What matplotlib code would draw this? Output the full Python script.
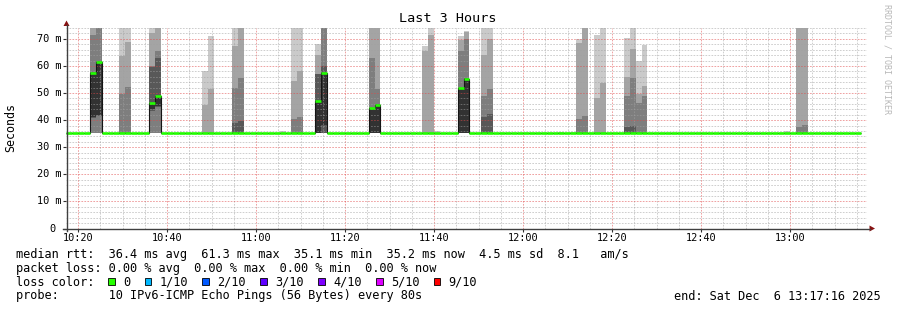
import matplotlib
matplotlib.use("Agg")
import matplotlib.pyplot as plt
import matplotlib.transforms as mtransforms
from matplotlib.patches import Polygon, Rectangle
from matplotlib.lines import Line2D
import numpy as np
import pandas as pd

plt.rcParams['lines.scale_dashes'] = False
plt.rcParams['font.family'] = ['DejaVu Sans Mono']

# ---------------- data ----------------
title = "Last 3 Hours"
y_label = "Seconds"
watermark = "RRDTOOL / TOBI OETIKER"
start_time = "2025-12-06 10:17:16"
end_time = "2025-12-06 13:17:16"
last_slot_start = "2025-12-06 13:14:36"
step_seconds = 80
base_rtt = 35.2  # ms, all 10 pings in quiet slots

smoke_times = [
    "10:22:36", "10:23:56", "10:29:16", "10:30:36", "10:35:56", "10:37:16",
    "10:47:56", "10:49:16", "10:54:36", "10:55:56", "11:05:16", "11:07:56",
    "11:09:16", "11:13:16", "11:14:36", "11:25:16", "11:26:36", "11:37:16",
    "11:38:36", "11:39:56", "11:45:16", "11:46:36", "11:50:36", "11:51:56",
    "12:07:56", "12:10:36", "12:11:56", "12:13:16", "12:15:56", "12:17:16",
    "12:22:36", "12:23:56", "12:25:16", "12:26:36", "12:58:36", "13:01:16",
    "13:02:36",
]
# 10 ping rtts (ms) per slot
smoke_pings = [
    [35.1, 35.1, 35.1, 40.6, 41.0, 57.5, 57.7, 71.4, 80.0, 80.0],
    [35.1, 35.1, 35.1, 41.5, 41.9, 61.6, 61.8, 80.0, 80.0, 80.0],
    [35.2, 35.2, 35.2, 35.2, 35.2, 35.2, 35.2, 49.6, 63.8, 80.0],
    [35.2, 35.2, 35.2, 35.2, 35.2, 35.2, 35.2, 52.2, 68.8, 80.0],
    [35.1, 35.1, 35.1, 43.5, 44.0, 46.4, 59.5, 60.0, 72.1, 80.0],
    [35.1, 35.1, 35.1, 45.0, 45.2, 48.8, 63.0, 65.5, 80.0, 80.0],
    [35.2, 35.2, 35.2, 35.2, 35.2, 35.2, 35.2, 35.2, 45.6, 58.2],
    [35.2, 35.2, 35.2, 35.2, 35.2, 35.2, 35.2, 35.2, 51.4, 71.1],
    [35.2, 35.2, 35.2, 35.2, 35.2, 35.2, 39.0, 51.7, 67.3, 80.0],
    [35.2, 35.2, 35.2, 35.2, 35.2, 35.2, 39.8, 55.5, 80.0, 80.0],
    [35.2, 35.2, 35.2, 35.2, 35.2, 35.2, 35.2, 35.2, 35.2, 35.9],
    [35.2, 35.2, 35.2, 35.2, 35.2, 35.2, 35.2, 40.4, 54.4, 80.0],
    [35.2, 35.2, 35.2, 35.2, 35.2, 35.2, 35.2, 41.3, 58.1, 80.0],
    [35.2, 35.2, 35.2, 35.2, 35.2, 47.0, 57.0, 57.2, 64.0, 68.2],
    [35.2, 35.2, 35.2, 35.2, 38.2, 57.3, 60.0, 80.0, 80.0, 80.0],
    [35.2, 35.2, 35.2, 35.2, 35.2, 44.3, 44.5, 62.8, 80.0, 80.0],
    [35.2, 35.2, 35.2, 35.2, 35.2, 45.7, 46.0, 51.5, 80.0, 80.0],
    [35.2, 35.2, 35.2, 35.2, 35.2, 35.2, 35.2, 35.2, 65.5, 67.3],
    [35.2, 35.2, 35.2, 35.2, 35.2, 35.2, 35.2, 35.2, 71.4, 80.0],
    [35.2, 35.2, 35.2, 35.2, 35.2, 35.2, 35.2, 35.2, 35.2, 35.9],
    [35.2, 35.2, 35.2, 35.2, 35.2, 51.7, 52.0, 65.5, 69.5, 71.0],
    [35.2, 35.2, 35.2, 35.2, 35.2, 55.3, 55.5, 70.0, 72.5, 73.0],
    [35.2, 35.2, 35.2, 35.2, 35.2, 35.2, 41.3, 48.9, 64.0, 80.0],
    [35.2, 35.2, 35.2, 35.2, 35.2, 35.2, 42.3, 51.5, 70.0, 80.0],
    [35.2, 35.2, 35.2, 35.2, 35.2, 35.2, 35.2, 35.2, 35.2, 35.8],
    [35.2, 35.2, 35.2, 35.2, 35.2, 35.2, 35.2, 35.2, 35.2, 35.8],
    [35.2, 35.2, 35.2, 35.2, 35.2, 35.2, 35.2, 40.4, 68.4, 69.9],
    [35.2, 35.2, 35.2, 35.2, 35.2, 35.2, 35.2, 41.5, 80.0, 80.0],
    [35.2, 35.2, 35.2, 35.2, 35.2, 35.2, 35.2, 35.2, 48.2, 71.4],
    [35.2, 35.2, 35.2, 35.2, 35.2, 35.2, 35.2, 35.2, 53.7, 80.0],
    [35.2, 35.2, 35.2, 35.2, 35.2, 35.2, 37.6, 48.9, 55.9, 70.3],
    [35.2, 35.2, 35.2, 35.2, 35.2, 35.3, 37.9, 55.5, 66.2, 80.0],
    [35.2, 35.2, 35.2, 35.2, 35.2, 35.2, 35.2, 46.3, 49.6, 61.8],
    [35.2, 35.2, 35.2, 35.2, 35.2, 35.2, 35.2, 48.9, 52.6, 67.7],
    [35.2, 35.2, 35.2, 35.2, 35.2, 35.2, 35.2, 35.2, 35.2, 35.9],
    [35.2, 35.2, 35.2, 35.2, 35.2, 35.2, 35.2, 37.6, 80.0, 80.0],
    [35.2, 35.2, 35.2, 35.2, 35.2, 35.2, 35.2, 38.3, 80.0, 80.0],
]

y_ticks = [0, 10, 20, 30, 40, 50, 60, 70]
y_tick_labels = ["0", "10 m", "20 m", "30 m", "40 m", "50 m", "60 m", "70 m"]
x_tick_labels = ["10:20", "10:40", "11:00", "11:20", "11:40", "12:00", "12:20", "12:40", "13:00"]
y_max = 74

legend_lines = [
    "median rtt:  36.4 ms avg  61.3 ms max  35.1 ms min  35.2 ms now  4.5 ms sd  8.1   am/s",
    "packet loss: 0.00 % avg  0.00 % max  0.00 % min  0.00 % now",
    "loss color:",
    "probe:       10 IPv6-ICMP Echo Pings (56 Bytes) every 80s",
]
end_label = "end: Sat Dec  6 13:17:16 2025"
loss_labels = ["0", "1/10", "2/10", "3/10", "4/10", "5/10", "9/10"]
loss_colors = ["#26ff00", "#00b8ff", "#0059ff", "#5e00ff", "#7e00ff", "#dd00ff", "#ff0000"]

# ---------------- derived ----------------
W, H = 897, 310
t0 = pd.Timestamp(start_time)
t_end = pd.Timestamp(end_time)
day = t0.strftime("%Y-%m-%d")
step_min = step_seconds / 60.0
total_min = (t_end - t0).total_seconds() / 60.0

def to_min(ts):
    return (pd.Timestamp(ts) - t0).total_seconds() / 60.0

slot_starts = pd.date_range(start_time, last_slot_start, freq=f"{step_seconds}s")
n = len(slot_starts)
pings = np.full((n, 10), base_rtt)
for t, p in zip(smoke_times, smoke_pings):
    idx = int(round((pd.Timestamp(f"{day} {t}") - t0).total_seconds() / step_seconds))
    pings[idx] = np.sort(p)
edges = np.array([to_min(s) for s in slot_starts] + [to_min(slot_starts[-1]) + step_min])
left = edges[:-1]
median = pings[:, 5]

# ---------------- figure ----------------
fig = plt.figure(figsize=(W / 100, H / 100), dpi=100)
fig.patch.set_facecolor("white")
ax_l, ax_r, ax_top, ax_bot = 66, 867, 28, 228.5
ax = fig.add_axes([ax_l / W, 1 - ax_bot / H, (ax_r - ax_l) / W, (ax_bot - ax_top) / H])
ax.set_facecolor("white")
ax.set_xlim(0, total_min)
ax.set_ylim(0, y_max)
for s in ax.spines.values():
    s.set_visible(False)

smoke_colors = ["#cacaca", "#a4a4a4", "#7e7e7e", "#585858", "#323232"]
for i in range(5):
    lo = pings[:, i]
    hi = pings[:, 9 - i]
    ax.bar(left, hi - lo, width=step_min, bottom=lo, align="edge",
           color=smoke_colors[i], linewidth=0, antialiased=False, zorder=1)

ax.stairs(median, edges, baseline=None, color="#151515", lw=0.8, zorder=3)
ax.hlines(median, edges[:-1], edges[1:], colors="#22ff00", lw=1.9, zorder=4,
          capstyle="butt")

# grid
maj_x = [to_min(f"{day} {t}") for t in x_tick_labels]
first = pd.Timestamp(f"{day} {x_tick_labels[0]}")
minor_times = pd.date_range(first, t_end, freq="5min")
min_x = [to_min(t) for t in minor_times]
ax.set_xticks(maj_x)
ax.set_xticklabels(x_tick_labels)
ax.set_xticks(min_x, minor=True)
ax.set_yticks(y_ticks)
ax.set_yticks(np.arange(0, y_max + 1, 2), minor=True)
ax.set_axisbelow(False)
dash = (0, (1.2, 0.95))
ax.grid(which="minor", color="#a0a0a0", alpha=0.5, lw=0.72, linestyle=dash)
ax.grid(which="major", color="#e04848", alpha=0.5, lw=0.72, linestyle=dash)
ax.tick_params(axis="x", which="major", length=2.2, width=0.8, color="#303030",
               direction="out", pad=1.2, labelsize=7.4)
ax.tick_params(axis="x", which="minor", length=0)
ax.tick_params(axis="y", which="major", length=2.5, width=0.8, color="#303030",
               direction="out", labelleft=False)
ax.tick_params(axis="y", which="minor", length=0)

# y tick labels (rrdtool style, unit suffix)
ytr = mtransforms.blended_transform_factory(fig.transFigure, ax.transData)
for v, lab in zip(y_ticks, y_tick_labels):
    xr = 61 if lab.endswith("m") else 55
    ax.text(xr / W, v, lab, transform=ytr, ha="right", va="center",
            fontsize=7.4, color="black", clip_on=False)

# axis lines and arrows (figure pixel coords)
def P(x, y):
    return (x / W, 1 - y / H)

fig.add_artist(Line2D([P(66.5, 0)[0]] * 2, [P(0, 231)[1], P(0, 25)[1]],
                      color="#404040", lw=1.0))
fig.add_artist(Line2D([P(63, 0)[0], P(870, 0)[0]], [P(0, 228.5)[1]] * 2,
                      color="#404040", lw=1.0))
fig.add_artist(Polygon([P(66.5, 20.5), P(63.5, 26), P(69.5, 26)], closed=True,
                       transform=fig.transFigure, color="#881111", lw=0))
fig.add_artist(Polygon([P(875, 228.5), P(869.5, 225.5), P(869.5, 231.5)], closed=True,
                       transform=fig.transFigure, color="#881111", lw=0))

# texts
fig.text(448 / W, 1 - 19 / H, title, ha="center", va="center", fontsize=9.7)
fig.text(11 / W, 1 - 127 / H, y_label, rotation=90, ha="center", va="center", fontsize=8.4)
fig.text(887 / W, 1 - 4 / H, watermark, rotation=270, ha="center", va="top",
         fontsize=6.0, color="#b8b8b8")

leg_fs = 8.55
leg_y = [254.3, 268.3, 282.3, 296.0]
for line, yy in zip(legend_lines, leg_y):
    fig.text(16 / W, 1 - yy / H, line, ha="left", va="center", fontsize=leg_fs)
fig.text(881 / W, 1 - leg_y[3] / H, end_label, ha="right", va="center", fontsize=leg_fs)

char_w = leg_fs * 100 / 72 * 0.602
bx = 108.3
for lab, col in zip(loss_labels, loss_colors):
    fig.add_artist(Rectangle(P(bx, 285.2), 6.8 / W, 6.8 / H, transform=fig.transFigure,
                             facecolor=col, edgecolor="black", lw=0.6))
    tx = bx + 15.7
    fig.text((tx - 0.7) / W, 1 - leg_y[2] / H, lab, ha="left", va="center", fontsize=leg_fs)
    bx = tx + len(lab) * char_w + 13.5

fig.savefig("out.png", dpi=100, facecolor="white")
